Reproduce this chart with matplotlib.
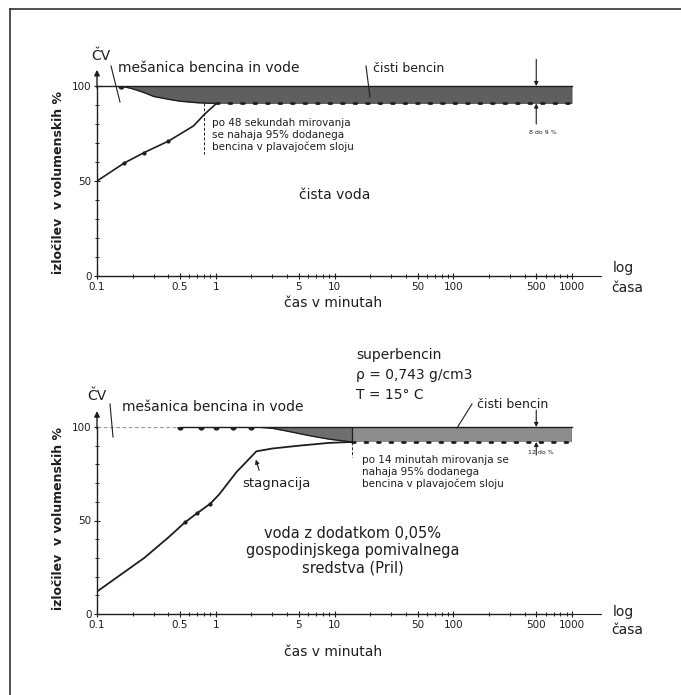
import matplotlib
matplotlib.use("Agg")
import matplotlib.pyplot as plt
from matplotlib.lines import Line2D

# velikost slike v pikslih
W, H = 681, 695

# zgornji graf - cista voda
top_rise_t = [0.1, 0.17, 0.25, 0.4, 0.65, 0.8, 1.0]
top_rise_v = [50, 59.5, 65, 71, 79, 85, 90.5]
top_fall_t = [0.16, 0.2, 0.25, 0.3, 0.4, 0.5, 0.7, 1.0]
top_fall_v = [100, 98.5, 96.5, 94.5, 93, 92, 91.2, 90.8]
top_level = 90.8
top_mark_t = 0.8   # 48 sekund

# spodnji graf - voda z detergentom
bot_rise_t = [0.1, 0.25, 0.4, 0.55, 0.7, 0.9, 1.07, 1.5, 2.2, 3, 5, 9, 14]
bot_rise_v = [12, 30, 41, 49, 54, 59, 64, 76, 87, 88.5, 90, 91.5, 92]
bot_fall_t = [2.2, 3, 4, 6, 9, 14]
bot_fall_v = [100, 99.3, 97.8, 95.5, 93.5, 92]
bot_dots_t = [0.5, 0.75, 1.0, 1.4, 2.0]
bot_level = 92
bot_mark_t = 14    # 14 minut

x_ticks = [0.1, 0.5, 1, 5, 10, 50, 100, 500, 1000]
x_labels = ["0.1", "0.5", "1", "5", "10", "50", "100", "500", "1000"]
y_ticks = [0, 50, 100]

plt.rcParams['font.family'] = ['DejaVu Sans']
INK = '#1e1e1e'

fig = plt.figure(figsize=(W / 100, H / 100), dpi=100)


def txt(x, y, s, **kw):
    kw.setdefault('color', INK)
    kw.setdefault('va', 'center')
    fig.text(x / W, 1 - y / H, s, **kw)


def leader(p0, p1):
    fig.add_artist(Line2D([p0[0] / W, p1[0] / W], [1 - p0[1] / H, 1 - p1[1] / H],
                          transform=fig.transFigure, color=INK, lw=0.8))


def setup_axes(ax):
    ax.set_xscale('log')
    ax.set_xlim(0.1, 1000)
    ax.set_ylim(0, 100)
    for s in ['top', 'right']:
        ax.spines[s].set_visible(False)
    for s in ['left', 'bottom']:
        ax.spines[s].set_linewidth(1.0)
        ax.spines[s].set_color(INK)
    ax.set_xticks(x_ticks)
    ax.set_xticklabels(x_labels, fontsize=7.5, color=INK)
    ax.set_yticks(y_ticks)
    ax.set_yticklabels([str(v) for v in y_ticks], fontsize=7.5, color=INK)
    ax.set_yticks(range(10, 100, 10), minor=True)
    ax.tick_params(which='major', direction='inout', length=4, width=0.8, pad=2, colors=INK)
    ax.tick_params(which='minor', direction='inout', length=2.5, width=0.7, colors=INK)
    ax.patch.set_alpha(0)
    # puscica na osi y in podaljsek osi x
    ax.annotate('', xy=(0, 1.085), xytext=(0, 0.99), xycoords='axes fraction',
                arrowprops=dict(arrowstyle='-|>', lw=1.0, color=INK, mutation_scale=8,
                                shrinkA=0, shrinkB=0))
    ax.plot([1, 1.06], [0, 0], transform=ax.transAxes, color=INK, lw=0.8, clip_on=False)


# ---------- zgornji graf ----------
ax1 = fig.add_axes([97 / W, 1 - 276 / H, 475 / W, 190 / H])
setup_axes(ax1)

band_t = top_fall_t + [1000]
band_v = top_fall_v + [top_level]
ax1.fill_between(band_t, band_v, 100, color='#5f5f5f', lw=0)
ax1.plot([0.1, 1000], [100, 100], color=INK, lw=1.0, clip_on=False)
ax1.plot(top_fall_t, top_fall_v, color=INK, lw=1.0)
ax1.plot(top_fall_t[0], top_fall_v[0], 'o', color=INK, ms=3.5)
ax1.plot(top_rise_t, top_rise_v, color=INK, lw=1.2, marker='o', ms=2, markevery=[1, 2, 3])
ax1.plot([top_fall_t[-1], 1000], [top_level, top_level], color=INK, lw=2.0,
         linestyle=(0, (1, 3.5)), dash_capstyle='round')
ax1.plot([1000, 1000], [top_level, 100], color=INK, lw=0.9)
ax1.plot([1000, 1000], [0, top_level], color='#888888', lw=0.7, linestyle=(0, (2, 4)))
ax1.plot([top_mark_t, top_mark_t], [top_level, 64], color=INK, lw=0.7, linestyle=(0, (3, 2)))
ax1.annotate('', xy=(500, 100), xytext=(500, 114),
             arrowprops=dict(arrowstyle='-|>', lw=0.8, color=INK, mutation_scale=6, shrinkA=0, shrinkB=0),
             annotation_clip=False)
ax1.annotate('', xy=(500, top_level), xytext=(500, 80),
             arrowprops=dict(arrowstyle='-|>', lw=0.8, color=INK, mutation_scale=6, shrinkA=0, shrinkB=0),
             annotation_clip=False)

txt(101, 56, 'ČV', fontsize=10, ha='center')
txt(118, 68, 'mešanica bencina in vode', fontsize=10)
leader((111, 66), (120, 102))
txt(373, 68, 'čisti bencin', fontsize=9)
leader((366, 66), (370, 97))
txt(212, 135, 'po 48 sekundah mirovanja\nse nahaja 95% dodanega\nbencina v plavajočem sloju',
    fontsize=7.5, linespacing=1.25)
txt(335, 195, 'čista voda', fontsize=10, ha='center')
txt(543, 132, '8 do 9 %', fontsize=4.5, ha='center')
txt(613, 268, 'log', fontsize=10)
txt(611, 288, 'časa', fontsize=10)
txt(333, 303, 'čas v minutah', fontsize=10, ha='center')
txt(59, 182, 'izločilev  v volumenskih %', fontsize=9, rotation=90, ha='center', fontweight='bold')

# ---------- spodnji graf ----------
ax2 = fig.add_axes([97 / W, 1 - 614 / H, 475 / W, 187 / H])
setup_axes(ax2)

ax2.fill_between(bot_fall_t, bot_fall_v, 100, color='#6e6e6e', lw=0)
ax2.fill_between([bot_fall_t[-1], 1000], bot_level, 100, color='#8d8d8d', lw=0)
ax2.plot([0.1, bot_dots_t[0]], [100, 100], color='#9a9a9a', lw=0.9, linestyle=(0, (3, 2)))
ax2.plot([bot_dots_t[0], 1000], [100, 100], color=INK, lw=1.0, clip_on=False)
ax2.plot(bot_dots_t, [100] * len(bot_dots_t), 'o', color=INK, ms=3.5)
ax2.plot(bot_fall_t, bot_fall_v, color=INK, lw=1.0)
ax2.plot(bot_rise_t, bot_rise_v, color=INK, lw=1.3, marker='o', ms=2, markevery=[3, 4, 5])
ax2.plot([bot_fall_t[-1], 1000], [bot_level, bot_level], color=INK, lw=2.0,
         linestyle=(0, (1, 3.5)), dash_capstyle='round')
ax2.plot([bot_fall_t[-1], bot_fall_t[-1]], [bot_level, 100], color=INK, lw=0.9)
ax2.plot([1000, 1000], [bot_level, 100], color=INK, lw=0.9)
ax2.plot([1000, 1000], [0, bot_level], color='#888888', lw=0.7, linestyle=(0, (2, 4)))
ax2.plot([bot_mark_t, bot_mark_t], [bot_level, 84], color=INK, lw=0.7, linestyle=(0, (3, 2)))
ax2.annotate('', xy=(500, 100), xytext=(500, 109),
             arrowprops=dict(arrowstyle='-|>', lw=0.8, color=INK, mutation_scale=6, shrinkA=0, shrinkB=0),
             annotation_clip=False)
ax2.annotate('', xy=(500, bot_level), xytext=(500, 85),
             arrowprops=dict(arrowstyle='-|>', lw=0.8, color=INK, mutation_scale=6, shrinkA=0, shrinkB=0),
             annotation_clip=False)

txt(356, 355, 'superbencin', fontsize=10)
txt(356, 375, 'ρ = 0,743 g/cm3', fontsize=10)
txt(356, 395, 'T = 15° C', fontsize=10)
txt(97, 396, 'ČV', fontsize=10, ha='center')
txt(122, 407, 'mešanica bencina in vode', fontsize=10)
leader((110, 404), (113, 437))
txt(477, 405, 'čisti bencin', fontsize=9)
leader((472, 404), (457, 428))
txt(362, 472, 'po 14 minutah mirovanja se\nnahaja 95% dodanega\nbencina v plavajočem sloju',
    fontsize=7.5, linespacing=1.25)
txt(242, 483, 'stagnacija', fontsize=9.5)
fig.add_artist(matplotlib.patches.FancyArrowPatch(
    (260 / W, 1 - 473 / H), (255 / W, 1 - 457 / H), transform=fig.transFigure,
    arrowstyle='-|>', mutation_scale=6, lw=0.8, color=INK))
txt(353, 551, 'voda z dodatkom 0,05%\ngospodinjskega pomivalnega\nsredstva (Pril)',
    fontsize=10.5, ha='center', linespacing=1.2)
txt(541, 452, '12 do %', fontsize=4.5, ha='center')
txt(613, 612, 'log', fontsize=10)
txt(611, 630, 'časa', fontsize=10)
txt(333, 652, 'čas v minutah', fontsize=10, ha='center')
txt(59, 518, 'izločilev  v volumenskih %', fontsize=9, rotation=90, ha='center', fontweight='bold')

# okvir
fig.add_artist(Line2D([10 / W, 10 / W], [1 - 9 / H, 0], transform=fig.transFigure, color='#333333', lw=1.2))
fig.add_artist(Line2D([10 / W, 1], [1 - 9 / H, 1 - 9 / H], transform=fig.transFigure, color='#333333', lw=1.2))

fig.savefig('out.png', dpi=100)
